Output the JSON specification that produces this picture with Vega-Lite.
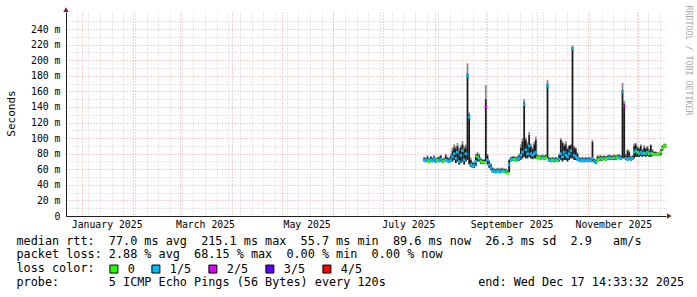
{
  "$schema": "https://vega.github.io/schema/vega-lite/v6.json",
  "width": 600,
  "height": 204,
  "autosize": {"type": "none"},
  "padding": {"left": 66, "top": 12, "right": 31, "bottom": 81},
  "background": "white",
  "config": {
    "view": {"stroke": null},
    "font": "DejaVu Sans Mono",
    "axis": {"labelFont": "DejaVu Sans Mono", "titleFont": "DejaVu Sans Mono", "labelColor": "#000000", "titleColor": "#000000"}
  },
  "data": {"values": [
    {"t":"2025-07-25T12:00","m":72,"lo":70,"hi":75,"g":76,"l":"1/5"},
    {"t":"2025-07-26T12:00","m":71,"lo":69,"hi":74,"g":75,"l":"1/5"},
    {"t":"2025-07-27T12:00","m":72,"lo":70,"hi":76,"g":78,"l":"1/5"},
    {"t":"2025-07-28T12:00","m":70,"lo":68,"hi":73,"g":74,"l":"0"},
    {"t":"2025-07-29T12:00","m":72,"lo":70,"hi":76,"g":77,"l":"1/5"},
    {"t":"2025-07-30T12:00","m":71,"lo":69,"hi":74,"g":75,"l":"1/5"},
    {"t":"2025-07-31T12:00","m":73,"lo":70,"hi":76,"g":78,"l":"1/5"},
    {"t":"2025-08-01T12:00","m":70,"lo":68,"hi":73,"g":74,"l":"1/5"},
    {"t":"2025-08-02T12:00","m":72,"lo":70,"hi":75,"g":76,"l":"0"},
    {"t":"2025-08-03T12:00","m":71,"lo":69,"hi":75,"g":77,"l":"1/5"},
    {"t":"2025-08-04T12:00","m":73,"lo":70,"hi":77,"g":79,"l":"1/5"},
    {"t":"2025-08-05T12:00","m":70,"lo":68,"hi":73,"g":74,"l":"0"},
    {"t":"2025-08-06T12:00","m":71,"lo":69,"hi":74,"g":75,"l":"0"},
    {"t":"2025-08-07T12:00","m":72,"lo":70,"hi":78,"g":80,"l":"1/5"},
    {"t":"2025-08-08T12:00","m":71,"lo":69,"hi":75,"g":76,"l":"1/5"},
    {"t":"2025-08-09T12:00","m":70,"lo":68,"hi":74,"g":75,"l":"1/5"},
    {"t":"2025-08-10T12:00","m":72,"lo":70,"hi":77,"g":80,"l":"1/5"},
    {"t":"2025-08-11T12:00","m":76,"lo":70,"hi":84,"g":88,"l":"1/5"},
    {"t":"2025-08-12T12:00","m":80,"lo":72,"hi":88,"g":92,"l":"1/5"},
    {"t":"2025-08-13T12:00","m":74,"lo":68,"hi":86,"g":90,"l":"1/5"},
    {"t":"2025-08-14T12:00","m":82,"lo":70,"hi":90,"g":94,"l":"1/5"},
    {"t":"2025-08-15T12:00","m":70,"lo":66,"hi":84,"g":88,"l":"1/5"},
    {"t":"2025-08-16T12:00","m":78,"lo":68,"hi":88,"g":91,"l":"1/5"},
    {"t":"2025-08-17T12:00","m":84,"lo":70,"hi":92,"g":96,"l":"1/5"},
    {"t":"2025-08-18T12:00","m":72,"lo":66,"hi":86,"g":90,"l":"1/5"},
    {"t":"2025-08-19T12:00","m":80,"lo":70,"hi":88,"g":92,"l":"1/5"},
    {"t":"2025-08-20T12:00","m":180,"lo":72,"hi":183,"g":196,"l":"1/5"},
    {"t":"2025-08-21T12:00","m":127,"lo":66,"hi":130,"g":133,"l":"1/5"},
    {"t":"2025-08-22T12:00","m":66,"lo":63,"hi":72,"g":75,"l":"1/5"},
    {"t":"2025-08-23T12:00","m":64,"lo":62,"hi":68,"g":70,"l":"1/5"},
    {"t":"2025-08-24T12:00","m":65,"lo":62,"hi":68,"g":70,"l":"1/5"},
    {"t":"2025-08-25T12:00","m":70,"lo":64,"hi":76,"g":80,"l":"1/5"},
    {"t":"2025-08-26T12:00","m":76,"lo":70,"hi":80,"g":82,"l":"0"},
    {"t":"2025-08-27T12:00","m":74,"lo":70,"hi":78,"g":80,"l":"1/5"},
    {"t":"2025-08-28T12:00","m":70,"lo":67,"hi":73,"g":75,"l":"0"},
    {"t":"2025-08-29T12:00","m":69,"lo":67,"hi":72,"g":73,"l":"0"},
    {"t":"2025-08-30T12:00","m":69,"lo":67,"hi":72,"g":73,"l":"0"},
    {"t":"2025-08-31T12:00","m":140,"lo":70,"hi":150,"g":168,"l":"2/5"},
    {"t":"2025-09-01T12:00","m":72,"lo":66,"hi":78,"g":80,"l":"1/5"},
    {"t":"2025-09-02T12:00","m":66,"lo":62,"hi":70,"g":72,"l":"1/5"},
    {"t":"2025-09-03T12:00","m":62,"lo":59,"hi":66,"g":68,"l":"1/5"},
    {"t":"2025-09-04T12:00","m":58,"lo":56,"hi":62,"g":63,"l":"1/5"},
    {"t":"2025-09-05T12:00","m":57,"lo":55,"hi":60,"g":61,"l":"1/5"},
    {"t":"2025-09-06T12:00","m":57,"lo":55,"hi":60,"g":61,"l":"1/5"},
    {"t":"2025-09-07T12:00","m":58,"lo":56,"hi":61,"g":62,"l":"1/5"},
    {"t":"2025-09-08T12:00","m":57,"lo":55,"hi":60,"g":61,"l":"1/5"},
    {"t":"2025-09-09T12:00","m":57,"lo":55,"hi":60,"g":62,"l":"1/5"},
    {"t":"2025-09-10T12:00","m":58,"lo":56,"hi":61,"g":62,"l":"1/5"},
    {"t":"2025-09-11T12:00","m":57,"lo":55,"hi":60,"g":61,"l":"0"},
    {"t":"2025-09-12T12:00","m":57,"lo":55,"hi":60,"g":61,"l":"1/5"},
    {"t":"2025-09-13T12:00","m":55,"lo":54,"hi":58,"g":59,"l":"0"},
    {"t":"2025-09-14T12:00","m":66,"lo":56,"hi":72,"g":73,"l":"1/5"},
    {"t":"2025-09-15T12:00","m":72,"lo":70,"hi":75,"g":76,"l":"1/5"},
    {"t":"2025-09-16T12:00","m":73,"lo":71,"hi":76,"g":77,"l":"1/5"},
    {"t":"2025-09-17T12:00","m":73,"lo":71,"hi":76,"g":77,"l":"0"},
    {"t":"2025-09-18T12:00","m":72,"lo":70,"hi":75,"g":76,"l":"0"},
    {"t":"2025-09-19T12:00","m":73,"lo":71,"hi":76,"g":77,"l":"1/5"},
    {"t":"2025-09-20T12:00","m":74,"lo":71,"hi":78,"g":80,"l":"1/5"},
    {"t":"2025-09-21T12:00","m":78,"lo":72,"hi":88,"g":92,"l":"1/5"},
    {"t":"2025-09-22T12:00","m":82,"lo":74,"hi":96,"g":100,"l":"1/5"},
    {"t":"2025-09-23T12:00","m":143,"lo":76,"hi":146,"g":150,"l":"1/5"},
    {"t":"2025-09-24T12:00","m":85,"lo":74,"hi":98,"g":101,"l":"1/5"},
    {"t":"2025-09-25T12:00","m":80,"lo":74,"hi":92,"g":95,"l":"1/5"},
    {"t":"2025-09-26T12:00","m":90,"lo":76,"hi":104,"g":108,"l":"1/5"},
    {"t":"2025-09-27T12:00","m":80,"lo":74,"hi":90,"g":93,"l":"1/5"},
    {"t":"2025-09-28T12:00","m":78,"lo":73,"hi":86,"g":88,"l":"1/5"},
    {"t":"2025-09-29T12:00","m":80,"lo":74,"hi":92,"g":95,"l":"1/5"},
    {"t":"2025-09-30T12:00","m":82,"lo":74,"hi":98,"g":102,"l":"1/5"},
    {"t":"2025-10-01T12:00","m":75,"lo":73,"hi":78,"g":79,"l":"0"},
    {"t":"2025-10-02T12:00","m":75,"lo":73,"hi":77,"g":78,"l":"0"},
    {"t":"2025-10-03T12:00","m":74,"lo":72,"hi":77,"g":78,"l":"0"},
    {"t":"2025-10-04T12:00","m":75,"lo":73,"hi":78,"g":79,"l":"1/5"},
    {"t":"2025-10-05T12:00","m":74,"lo":72,"hi":77,"g":78,"l":"0"},
    {"t":"2025-10-06T12:00","m":75,"lo":73,"hi":78,"g":79,"l":"0"},
    {"t":"2025-10-07T12:00","m":167,"lo":74,"hi":170,"g":175,"l":"1/5"},
    {"t":"2025-10-08T12:00","m":72,"lo":70,"hi":75,"g":76,"l":"1/5"},
    {"t":"2025-10-09T12:00","m":71,"lo":69,"hi":74,"g":75,"l":"1/5"},
    {"t":"2025-10-10T12:00","m":72,"lo":70,"hi":75,"g":76,"l":"0"},
    {"t":"2025-10-11T12:00","m":71,"lo":69,"hi":74,"g":75,"l":"1/5"},
    {"t":"2025-10-12T12:00","m":72,"lo":70,"hi":75,"g":76,"l":"1/5"},
    {"t":"2025-10-13T12:00","m":71,"lo":69,"hi":74,"g":75,"l":"0"},
    {"t":"2025-10-14T12:00","m":73,"lo":70,"hi":78,"g":80,"l":"1/5"},
    {"t":"2025-10-15T12:00","m":80,"lo":72,"hi":98,"g":100,"l":"1/5"},
    {"t":"2025-10-16T12:00","m":76,"lo":70,"hi":94,"g":96,"l":"1/5"},
    {"t":"2025-10-17T12:00","m":82,"lo":72,"hi":90,"g":93,"l":"1/5"},
    {"t":"2025-10-18T12:00","m":78,"lo":72,"hi":92,"g":96,"l":"1/5"},
    {"t":"2025-10-19T12:00","m":76,"lo":70,"hi":86,"g":88,"l":"1/5"},
    {"t":"2025-10-20T12:00","m":80,"lo":72,"hi":90,"g":91,"l":"1/5"},
    {"t":"2025-10-21T12:00","m":84,"lo":74,"hi":91,"g":92,"l":"1/5"},
    {"t":"2025-10-22T12:00","m":215,"lo":74,"hi":217,"g":219,"l":"1/5"},
    {"t":"2025-10-23T12:00","m":78,"lo":72,"hi":88,"g":90,"l":"1/5"},
    {"t":"2025-10-24T12:00","m":76,"lo":72,"hi":86,"g":88,"l":"1/5"},
    {"t":"2025-10-25T12:00","m":74,"lo":71,"hi":80,"g":82,"l":"1/5"},
    {"t":"2025-10-26T12:00","m":72,"lo":70,"hi":75,"g":76,"l":"1/5"},
    {"t":"2025-10-27T12:00","m":71,"lo":69,"hi":74,"g":75,"l":"1/5"},
    {"t":"2025-10-28T12:00","m":72,"lo":70,"hi":75,"g":76,"l":"1/5"},
    {"t":"2025-10-29T12:00","m":71,"lo":69,"hi":74,"g":75,"l":"1/5"},
    {"t":"2025-10-30T12:00","m":72,"lo":70,"hi":75,"g":76,"l":"1/5"},
    {"t":"2025-10-31T12:00","m":71,"lo":69,"hi":74,"g":75,"l":"1/5"},
    {"t":"2025-11-01T12:00","m":72,"lo":70,"hi":75,"g":76,"l":"1/5"},
    {"t":"2025-11-02T12:00","m":71,"lo":69,"hi":74,"g":75,"l":"1/5"},
    {"t":"2025-11-03T12:00","m":74,"lo":70,"hi":95,"g":98,"l":"1/5"},
    {"t":"2025-11-04T12:00","m":70,"lo":68,"hi":73,"g":74,"l":"1/5"},
    {"t":"2025-11-05T12:00","m":69,"lo":67,"hi":72,"g":73,"l":"1/5"},
    {"t":"2025-11-06T12:00","m":72,"lo":70,"hi":76,"g":78,"l":"0"},
    {"t":"2025-11-07T12:00","m":73,"lo":71,"hi":76,"g":78,"l":"0"},
    {"t":"2025-11-08T12:00","m":74,"lo":71,"hi":77,"g":78,"l":"1/5"},
    {"t":"2025-11-09T12:00","m":73,"lo":71,"hi":76,"g":77,"l":"0"},
    {"t":"2025-11-10T12:00","m":74,"lo":72,"hi":77,"g":78,"l":"1/5"},
    {"t":"2025-11-11T12:00","m":73,"lo":71,"hi":76,"g":77,"l":"0"},
    {"t":"2025-11-12T12:00","m":74,"lo":72,"hi":77,"g":78,"l":"0"},
    {"t":"2025-11-13T12:00","m":75,"lo":72,"hi":78,"g":79,"l":"1/5"},
    {"t":"2025-11-14T12:00","m":74,"lo":72,"hi":77,"g":78,"l":"0"},
    {"t":"2025-11-15T12:00","m":74,"lo":72,"hi":77,"g":78,"l":"1/5"},
    {"t":"2025-11-16T12:00","m":75,"lo":72,"hi":78,"g":79,"l":"0"},
    {"t":"2025-11-17T12:00","m":74,"lo":72,"hi":77,"g":78,"l":"1/5"},
    {"t":"2025-11-18T12:00","m":75,"lo":73,"hi":78,"g":79,"l":"0"},
    {"t":"2025-11-19T12:00","m":75,"lo":73,"hi":78,"g":80,"l":"1/5"},
    {"t":"2025-11-20T12:00","m":74,"lo":72,"hi":77,"g":78,"l":"1/5"},
    {"t":"2025-11-21T12:00","m":159,"lo":74,"hi":162,"g":171,"l":"1/5"},
    {"t":"2025-11-22T12:00","m":141,"lo":74,"hi":144,"g":148,"l":"2/5"},
    {"t":"2025-11-23T12:00","m":74,"lo":72,"hi":78,"g":80,"l":"1/5"},
    {"t":"2025-11-24T12:00","m":73,"lo":71,"hi":84,"g":86,"l":"1/5"},
    {"t":"2025-11-25T12:00","m":74,"lo":72,"hi":82,"g":84,"l":"1/5"},
    {"t":"2025-11-26T12:00","m":73,"lo":71,"hi":76,"g":77,"l":"1/5"},
    {"t":"2025-11-27T12:00","m":74,"lo":72,"hi":77,"g":78,"l":"1/5"},
    {"t":"2025-11-28T12:00","m":82,"lo":74,"hi":90,"g":93,"l":"1/5"},
    {"t":"2025-11-29T12:00","m":84,"lo":76,"hi":92,"g":94,"l":"1/5"},
    {"t":"2025-11-30T12:00","m":82,"lo":76,"hi":88,"g":90,"l":"0"},
    {"t":"2025-12-01T12:00","m":80,"lo":76,"hi":86,"g":88,"l":"1/5"},
    {"t":"2025-12-02T12:00","m":82,"lo":77,"hi":90,"g":92,"l":"1/5"},
    {"t":"2025-12-03T12:00","m":80,"lo":76,"hi":84,"g":86,"l":"1/5"},
    {"t":"2025-12-04T12:00","m":81,"lo":77,"hi":88,"g":91,"l":"0"},
    {"t":"2025-12-05T12:00","m":80,"lo":76,"hi":86,"g":88,"l":"1/5"},
    {"t":"2025-12-06T12:00","m":82,"lo":77,"hi":88,"g":90,"l":"1/5"},
    {"t":"2025-12-07T12:00","m":80,"lo":76,"hi":84,"g":86,"l":"0"},
    {"t":"2025-12-08T12:00","m":81,"lo":76,"hi":91,"g":92,"l":"1/5"},
    {"t":"2025-12-09T12:00","m":80,"lo":77,"hi":84,"g":86,"l":"0"},
    {"t":"2025-12-10T12:00","m":79,"lo":77,"hi":82,"g":83,"l":"0"},
    {"t":"2025-12-11T12:00","m":79,"lo":77,"hi":82,"g":83,"l":"0"},
    {"t":"2025-12-12T12:00","m":79,"lo":77,"hi":81,"g":82,"l":"0"},
    {"t":"2025-12-13T12:00","m":79,"lo":77,"hi":81,"g":82,"l":"0"},
    {"t":"2025-12-14T12:00","m":82,"lo":78,"hi":85,"g":86,"l":"0"},
    {"t":"2025-12-15T12:00","m":87,"lo":84,"hi":90,"g":91,"l":"0"},
    {"t":"2025-12-16T12:00","m":90,"lo":88,"hi":92,"g":93,"l":"0"},
    {"t":"2025-12-17T06:00","m":90,"lo":88,"hi":92,"g":93,"l":"0"}
  ]},
  "layer": [
    {
      "mark": {"type": "rule", "color": "#8c8c8c", "strokeWidth": 1.8},
      "encoding": {
        "x": {"field": "t", "type": "temporal",
          "scale": {"domain": [{"year": 2024, "month": 12, "date": 22, "hours": 14, "minutes": 33, "seconds": 32}, {"year": 2025, "month": 12, "date": 17, "hours": 14, "minutes": 33, "seconds": 32}], "nice": false},
          "axis": {"orient": "bottom", "values": [
            {"year":2024,"month":12,"date":29},
            {"year":2025,"month":1,"date":5},{"year":2025,"month":1,"date":12},{"year":2025,"month":1,"date":19},{"year":2025,"month":1,"date":26},
            {"year":2025,"month":2,"date":2},{"year":2025,"month":2,"date":9},{"year":2025,"month":2,"date":16},{"year":2025,"month":2,"date":23},
            {"year":2025,"month":3,"date":2},{"year":2025,"month":3,"date":9},{"year":2025,"month":3,"date":16},{"year":2025,"month":3,"date":23},{"year":2025,"month":3,"date":30},
            {"year":2025,"month":4,"date":6},{"year":2025,"month":4,"date":13},{"year":2025,"month":4,"date":20},{"year":2025,"month":4,"date":27},
            {"year":2025,"month":5,"date":4},{"year":2025,"month":5,"date":11},{"year":2025,"month":5,"date":18},{"year":2025,"month":5,"date":25},
            {"year":2025,"month":6,"date":1},{"year":2025,"month":6,"date":8},{"year":2025,"month":6,"date":15},{"year":2025,"month":6,"date":22},{"year":2025,"month":6,"date":29},
            {"year":2025,"month":7,"date":6},{"year":2025,"month":7,"date":13},{"year":2025,"month":7,"date":20},{"year":2025,"month":7,"date":27},
            {"year":2025,"month":8,"date":3},{"year":2025,"month":8,"date":10},{"year":2025,"month":8,"date":17},{"year":2025,"month":8,"date":24},{"year":2025,"month":8,"date":31},
            {"year":2025,"month":9,"date":7},{"year":2025,"month":9,"date":14},{"year":2025,"month":9,"date":21},{"year":2025,"month":9,"date":28},
            {"year":2025,"month":10,"date":5},{"year":2025,"month":10,"date":12},{"year":2025,"month":10,"date":19},{"year":2025,"month":10,"date":26},
            {"year":2025,"month":11,"date":2},{"year":2025,"month":11,"date":9},{"year":2025,"month":11,"date":16},{"year":2025,"month":11,"date":23},{"year":2025,"month":11,"date":30},
            {"year":2025,"month":12,"date":7},{"year":2025,"month":12,"date":14}
          ],
          "grid": true, "gridColor": "#cfcfcf", "gridDash": [1, 2], "gridWidth": 1,
          "labels": false, "ticks": false, "domain": false, "title": null, "zindex": 0}
        },
        "y": {"field": "hi", "type": "quantitative",
          "scale": {"domain": [0, 262], "nice": false},
          "axis": {"orient": "left", "values": [10, 30, 50, 70, 90, 110, 130, 150, 170, 190, 210, 230, 250],
            "grid": true, "gridColor": "#cfcfcf", "gridDash": [1, 2], "gridWidth": 1,
            "labels": false, "ticks": false, "domain": false, "title": null, "zindex": 0}
        },
        "y2": {"field": "g"}
      }
    },
    {
      "mark": {"type": "rule", "color": "#1c1c1c", "strokeWidth": 1.8},
      "encoding": {
        "x": {"field": "t", "type": "temporal",
          "scale": {"domain": [{"year": 2024, "month": 12, "date": 22, "hours": 14, "minutes": 33, "seconds": 32}, {"year": 2025, "month": 12, "date": 17, "hours": 14, "minutes": 33, "seconds": 32}], "nice": false},
          "axis": {"orient": "bottom", "values": [
            {"year":2025,"month":1,"date":1},{"year":2025,"month":2,"date":1},{"year":2025,"month":3,"date":1},{"year":2025,"month":4,"date":1},
            {"year":2025,"month":5,"date":1},{"year":2025,"month":6,"date":1},{"year":2025,"month":7,"date":1},{"year":2025,"month":8,"date":1},
            {"year":2025,"month":9,"date":1},{"year":2025,"month":10,"date":1},{"year":2025,"month":11,"date":1},{"year":2025,"month":12,"date":1}
          ],
          "grid": true, "gridColor": "#eaa3a3", "gridDash": [1, 2], "gridWidth": 1,
          "labels": false, "ticks": false, "domain": false, "title": null, "zindex": 0}
        },
        "y": {"field": "lo", "type": "quantitative",
          "scale": {"domain": [0, 262], "nice": false},
          "axis": {"orient": "left", "values": [0, 20, 40, 60, 80, 100, 120, 140, 160, 180, 200, 220, 240],
            "grid": true, "gridColor": "#eaa3a3", "gridDash": [1, 2], "gridWidth": 1,
            "labelExpr": "datum.value == 0 ? '0\u00a0\u00a0' : datum.value + ' m'",
            "labelFontSize": 9.8, "labelPadding": 6, "labelAlign": "right", "labelBaseline": "middle",
            "ticks": false, "domain": true, "domainColor": "#1f1f1f", "domainWidth": 1,
            "title": "Seconds", "titleX": -55, "titleY": 101, "titleAngle": 270, "titleAlign": "center", "titleBaseline": "middle",
            "titleFontSize": 11, "titleFontWeight": "normal", "zindex": 0}
        },
        "y2": {"field": "hi"}
      }
    },
    {
      "mark": {"type": "point", "shape": "square", "filled": true, "size": 7, "opacity": 1},
      "encoding": {
        "x": {"field": "t", "type": "temporal",
          "scale": {"domain": [{"year": 2024, "month": 12, "date": 22, "hours": 14, "minutes": 33, "seconds": 32}, {"year": 2025, "month": 12, "date": 17, "hours": 14, "minutes": 33, "seconds": 32}], "nice": false},
          "axis": {"orient": "bottom", "values": [
            {"year":2025,"month":1,"date":16},{"year":2025,"month":3,"date":16},{"year":2025,"month":5,"date":16},
            {"year":2025,"month":7,"date":16},{"year":2025,"month":9,"date":16},{"year":2025,"month":11,"date":16}
          ],
          "format": "%B %Y", "labelFontSize": 9.8, "labelPadding": 3, "labelBaseline": "top", "labelAlign": "center",
          "labelOverlap": false, "labelFlush": false,
          "grid": false, "ticks": false, "domain": true, "domainColor": "#1f1f1f", "domainWidth": 1,
          "title": [
            "median rtt:\u00a0\u00a077.0 ms avg\u00a0\u00a0215.1 ms max\u00a0\u00a055.7 ms min\u00a0\u00a089.6 ms now\u00a0\u00a026.3 ms sd\u00a0\u00a02.9\u00a0\u00a0\u00a0am/s",
            "packet loss: 2.88 % avg\u00a0\u00a068.15 % max\u00a0\u00a00.00 % min\u00a0\u00a00.00 % now",
            "loss color:",
            "probe:\u00a0\u00a0\u00a0\u00a0\u00a0\u00a0\u00a05 ICMP Echo Pings (56 Bytes) every 120s\u00a0\u00a0\u00a0\u00a0\u00a0\u00a0\u00a0\u00a0\u00a0\u00a0\u00a0\u00a0\u00a0end: Wed Dec 17 14:33:32 2025"
          ],
          "titleX": -50, "titleY": 19, "titleAlign": "left", "titleBaseline": "top", "titleAnchor": "start",
          "titleFontSize": 11.8, "titleFontWeight": "normal", "titleLineHeight": 13.9, "zindex": 1}
        },
        "y": {"field": "m", "type": "quantitative",
          "scale": {"domain": [0, 262], "nice": false},
          "axis": {"orient": "right", "labels": false, "ticks": false, "domain": false, "grid": false,
            "title": "RRDTOOL / TOBI OETIKER", "titleAngle": 90, "titleX": 21.5, "titleY": 48,
            "titleAlign": "center", "titleBaseline": "middle", "titleFontSize": 8.3, "titleFontWeight": "normal",
            "titleColor": "#ababab", "zindex": 1}
        },
        "color": {"field": "l", "type": "nominal",
          "scale": {"domain": ["0", "1/5", "2/5", "3/5", "4/5"], "range": ["#26ff00", "#00b8ff", "#d800ff", "#5e00ff", "#ff0000"]},
          "legend": {"orient": "none", "legendX": 42, "legendY": 251, "direction": "horizontal", "title": null,
            "symbolType": "square", "symbolSize": 64, "symbolStrokeColor": "#000000", "symbolStrokeWidth": 1, "symbolOpacity": 1,
            "labelFont": "DejaVu Sans Mono", "labelFontSize": 11.8, "labelColor": "#000000", "labelOffset": 8,
            "columnPadding": 14, "padding": 0}
        }
      }
    },
    {
      "data": {"values": [
        {"t": "2025-12-19T14:33:32", "v": 0, "s": "triangle-right"},
        {"t": "2024-12-22T14:33:32", "v": 265, "s": "triangle-up"}
      ]},
      "mark": {"type": "point", "filled": true, "size": 30, "color": "#801f1f", "opacity": 1},
      "encoding": {
        "x": {"field": "t", "type": "temporal", "axis": null,
          "scale": {"domain": [{"year": 2024, "month": 12, "date": 22, "hours": 14, "minutes": 33, "seconds": 32}, {"year": 2025, "month": 12, "date": 17, "hours": 14, "minutes": 33, "seconds": 32}], "nice": false}},
        "y": {"field": "v", "type": "quantitative", "axis": null, "scale": {"domain": [0, 262], "nice": false}},
        "shape": {"field": "s", "type": "nominal", "scale": null, "legend": null}
      }
    }
  ],
  "resolve": {"axis": {"x": "independent", "y": "independent"}}
}
